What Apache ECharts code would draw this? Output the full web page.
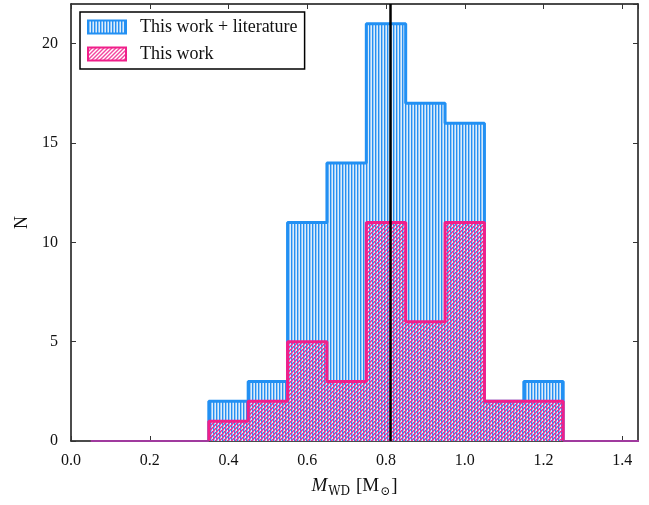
<!DOCTYPE html>
<html>
<head>
<meta charset="utf-8">
<script src="https://cdn.jsdelivr.net/npm/echarts@6/dist/echarts.min.js"></script>
<style>
html,body{margin:0;padding:0;background:#fff;}
#chart{width:649px;height:505px;}
</style>
</head>
<body>
<div id="chart"></div>
<script>
// ---- data ----
const binEdges = [0.35, 0.45, 0.55, 0.65, 0.75, 0.85, 0.95, 1.05, 1.15, 1.25];
const countsAll = [2, 3, 11, 14, 21, 17, 16, 2, 3];        // This work + literature
const countsThisWork = [1, 2, 5, 3, 11, 6, 11, 2, 2];      // This work
const rangeLow = 0.05;
const rangeHigh = 1.45;
const meanMass = 0.81;
const xTicks = [0.0, 0.2, 0.4, 0.6, 0.8, 1.0, 1.2, 1.4];
const yTicks = [0, 5, 10, 15, 20];
const seriesNames = ['This work + literature', 'This work'];

// ---- patterns ----
function makePattern(w, h, painter) {
  const c = document.createElement('canvas');
  c.width = w; c.height = h;
  const ctx = c.getContext('2d');
  painter(ctx);
  return { image: c, repeat: 'repeat' };
}
const bluePattern = makePattern(3, 3, ctx => {
  const cols = ['#2590f3', '#98c8f5', '#dcedfc'];
  for (let x = 0; x < 3; x++) { ctx.fillStyle = cols[x]; ctx.fillRect(x, 0, 1, 3); }
});
const pinkPattern = makePattern(4, 4, ctx => {
  ctx.fillStyle = '#f22c92';
  for (let y = 0; y < 4; y++) for (let x = 0; x < 4; x++) {
    const k = (x + y) % 4;
    if (k === 3) { ctx.globalAlpha = 1; ctx.fillRect(x, y, 1, 1); }
    else if (k === 0) { ctx.globalAlpha = 0.75; ctx.fillRect(x, y, 1, 1); }
  }
  ctx.globalAlpha = 1;
});

function histData(edges, counts) {
  const d = [[edges[0], 0]];
  for (let i = 0; i < counts.length; i++) d.push([edges[i], counts[i]]);
  d.push([edges[edges.length - 1], 0]);
  return d;
}

const blueColor = '#2290f3';
const pinkColor = '#f01f8a';
const font = '"Liberation Serif", "DejaVu Serif", serif';

const chart = echarts.init(document.getElementById('chart'), null, { renderer: 'canvas' });
const tickFmt = v => (xTicks.some(t => Math.abs(t - v) < 1e-6) ? v.toFixed(1) : '');
const yFmt = v => (yTicks.indexOf(v) >= 0 ? String(v) : '');

const option = {
  animation: false,
  textStyle: { fontFamily: font },
  grid: { left: 71, right: 11, top: 4, bottom: 64 },
  legend: {
    orient: 'vertical',
    left: 80, top: 12,
    icon: 'rect',
    itemWidth: 38, itemHeight: 13,
    itemGap: 9,
    padding: [6, 7, 6, 7],
    borderColor: '#000', borderWidth: 1.5,
    backgroundColor: '#fff',
    textStyle: { fontFamily: font, fontSize: 18, color: '#111', padding: [0, 0, 0, 9] },
    data: [
      { name: seriesNames[0], itemStyle: { color: bluePattern, borderColor: blueColor, borderWidth: 2 } },
      { name: seriesNames[1], itemStyle: { color: pinkPattern, borderColor: pinkColor, borderWidth: 2 } }
    ]
  },
  xAxis: [{
    type: 'value', min: 0, max: 1.44, interval: 0.2,
    name: '{it|M}{sub|WD}{n| [M}{sub|⊙}{n|]}',
    nameLocation: 'middle', nameGap: 33,
    nameTextStyle: {
      rich: {
        it: { fontFamily: font, fontStyle: 'italic', fontSize: 19, color: '#111', lineHeight: 24 },
        n: { fontFamily: font, fontSize: 19, color: '#111', lineHeight: 24 },
        sub: { fontFamily: '"DejaVu Serif", "Liberation Serif", serif', fontSize: 12, color: '#111', lineHeight: 12, padding: [12, 1, 0, 1] }
      }
    },
    axisLine: { onZero: false, lineStyle: { color: '#111', width: 1.5 } },
    axisTick: { inside: true, length: 5, lineStyle: { color: '#333', width: 1 } },
    axisLabel: { fontFamily: font, fontSize: 16, color: '#111', margin: 12, formatter: tickFmt, showMaxLabel: false },
    splitLine: { show: false }
  }, {
    type: 'value', min: 0, max: 1.44, interval: 0.2, position: 'top',
    axisLine: { onZero: false, lineStyle: { color: '#111', width: 1.5 } },
    axisTick: { inside: true, length: 5, lineStyle: { color: '#333', width: 1 } },
    axisLabel: { show: false },
    splitLine: { show: false }
  }],
  yAxis: [{
    type: 'value', min: 0, max: 22, interval: 5,
    name: 'N', nameLocation: 'middle', nameGap: 40,
    nameTextStyle: { fontFamily: font, fontSize: 18, color: '#111' },
    axisLine: { show: true, onZero: false, lineStyle: { color: '#111', width: 1.5 } },
    axisTick: { inside: true, length: 5, lineStyle: { color: '#333', width: 1 } },
    axisLabel: { fontFamily: font, fontSize: 16, color: '#111', margin: 13, formatter: yFmt, showMaxLabel: false },
    splitLine: { show: false }
  }, {
    type: 'value', min: 0, max: 22, interval: 5, position: 'right',
    axisLine: { show: true, onZero: false, lineStyle: { color: '#111', width: 1.5 } },
    axisTick: { inside: true, length: 5, lineStyle: { color: '#333', width: 1 } },
    axisLabel: { show: false },
    splitLine: { show: false }
  }],
  series: [
    {
      name: seriesNames[0], type: 'line', step: 'end', symbol: 'none',
      data: histData(binEdges, countsAll),
      lineStyle: { color: blueColor, width: 3 },
      itemStyle: { color: blueColor },
      areaStyle: { color: bluePattern, opacity: 1 },
      z: 2
    },
    {
      name: seriesNames[1], type: 'line', step: 'end', symbol: 'none',
      data: histData(binEdges, countsThisWork),
      lineStyle: { color: pinkColor, width: 3 },
      itemStyle: { color: pinkColor },
      areaStyle: { color: pinkPattern, opacity: 1 },
      z: 3,
      markLine: {
        silent: true, symbol: 'none', label: { show: false },
        lineStyle: { color: '#000', width: 2.5, type: 'solid' },
        data: [{ xAxis: meanMass }]
      }
    },
    {
      name: 'baseL', type: 'line', symbol: 'none', silent: true,
      data: [[rangeLow, 0], [binEdges[0], 0]],
      lineStyle: { color: '#a03a9e', width: 2 }, z: 4
    },
    {
      name: 'baseR', type: 'line', symbol: 'none', silent: true,
      data: [[binEdges[binEdges.length - 1], 0], [rangeHigh, 0]],
      lineStyle: { color: '#a03a9e', width: 2 }, z: 4
    }
  ]
};
chart.setOption(option);
</script>
</body>
</html>
